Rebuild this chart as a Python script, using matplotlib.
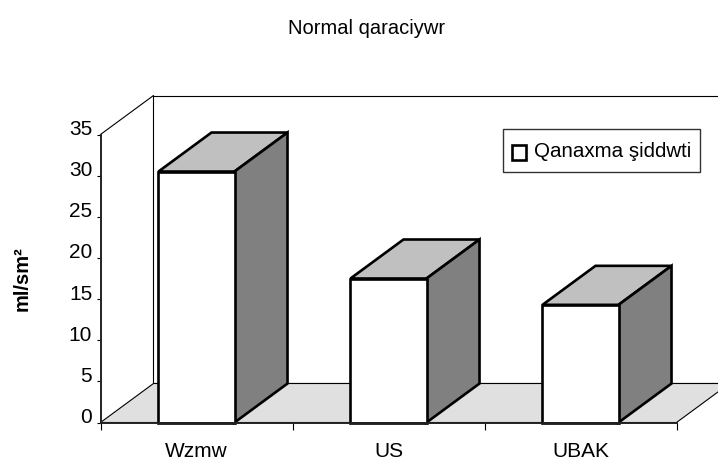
import matplotlib
matplotlib.use("Agg")
import matplotlib.pyplot as plt
from matplotlib.patches import Polygon, Patch
from matplotlib.transforms import ScaledTranslation

plt.rcParams['font.family'] = ['Liberation Sans', 'DejaVu Sans']

# values
categories = ['Wzmw', 'US', 'UBAK']
values = [30.5, 17.5, 14.3]
y_ticks = [0, 5, 10, 15, 20, 25, 30, 35]
series_name = 'Qanaxma şiddwti'

W, H = 718, 461
fig = plt.figure(figsize=(W / 100, H / 100), dpi=100)
# axes placed in pixels: x 100.5-676.5, y 134.5-422.5
ax = fig.add_axes([100.5 / W, 1 - 422.5 / H, 576 / W, 288 / H])
ax.set_xlim(0, 3)
ax.set_ylim(0, 35)

# fake 3d depth in data units
dx = 53 / 192
dy = 39 / (288 / 35)
bar_w = 0.396

# back wall and floor
ax.plot([0, dx, dx, 3 + dx], [35, 35 + dy, dy, dy], color='black', lw=0.8, clip_on=False, zorder=1)
ax.plot([dx, 3 + dx], [35 + dy, 35 + dy], color='black', lw=0.8, clip_on=False, zorder=1)
ax.add_patch(Polygon([(0, 0), (3, 0), (3 + dx, dy), (dx, dy)], facecolor='#e0e0e0',
                     edgecolor='black', lw=0.8, clip_on=False, zorder=2))

for i, v in enumerate(values):
    x0 = i + 0.5 - bar_w / 2
    x1 = i + 0.5 + bar_w / 2
    top = [(x0, v), (x1, v), (x1 + dx, v + dy), (x0 + dx, v + dy)]
    side = [(x1, 0), (x1 + dx, dy), (x1 + dx, v + dy), (x1, v)]
    ax.add_patch(Polygon(top, facecolor='#c0c0c0', edgecolor='black', lw=1.9, joinstyle='miter', clip_on=False, zorder=3))
    ax.add_patch(Polygon(side, facecolor='#808080', edgecolor='black', lw=1.9, joinstyle='miter', clip_on=False, zorder=3))
    ax.bar(i + 0.5, v, width=bar_w, color='white', edgecolor='black', lw=1.9, zorder=4, clip_on=False)

for s in ['top', 'right']:
    ax.spines[s].set_visible(False)
for s in ['left', 'bottom']:
    ax.spines[s].set_linewidth(1.4)
    ax.spines[s].set_color('#222222')
    ax.spines[s].set_zorder(5)

ax.patch.set_visible(False)
ax.set_yticks(y_ticks)
ax.tick_params(axis='y', labelsize=15, length=3, width=0.8, pad=3)
# labels sit a bit above their ticks in the original
for lab in ax.get_yticklabels():
    lab.set_transform(lab.get_transform() + ScaledTranslation(0, 7 / 100, fig.dpi_scale_trans))
ax.set_xticks([0, 1, 2, 3])
ax.set_xticklabels([])
ax.set_xticks([0.5, 1.5, 2.5], minor=True)
ax.set_xticklabels(categories, minor=True)
ax.tick_params(axis='x', which='major', length=5, width=0.8)
ax.tick_params(axis='x', which='minor', length=0, labelsize=15, pad=14)

fig.text(367 / W, 1 - 28 / H, 'Normal qaraciywr', ha='center', va='center', fontsize=14.5)
fig.text(22 / W, 1 - 279 / H, 'ml/sm²', rotation=90, ha='center', va='center', fontsize=14.5, fontweight='bold')

handle = Patch(facecolor='white', edgecolor='black', lw=1.9)
leg = fig.legend([handle], [series_name], loc='upper left', bbox_to_anchor=(503 / W, 1 - 129 / H),
                 bbox_transform=fig.transFigure, borderaxespad=0, fancybox=False, framealpha=1,
                 edgecolor='#333333', fontsize=14.8, handlelength=0.77, handleheight=1.5,
                 handletextpad=0.3, borderpad=0.43)
box = leg.get_patches()[0]
box.set_height(10.5)
box.set_width(10.5)
box.set_y(-2)

fig.savefig('out.png', dpi=100)
